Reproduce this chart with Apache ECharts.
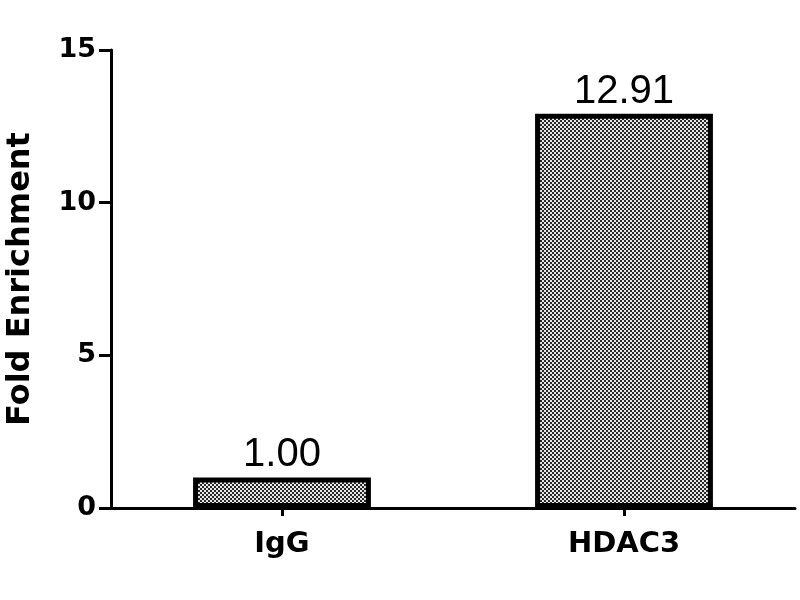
<!DOCTYPE html>
<html>
<head>
<meta charset="utf-8">
<script src="https://cdn.jsdelivr.net/npm/echarts@6/dist/echarts.min.js"></script>
<style>html,body{margin:0;padding:0;background:#fff;}#c{width:800px;height:600px;}</style>
</head>
<body>
<div id="c"></div>
<script>
var categories = ['IgG', 'HDAC3'];
var values = [1.00, 12.91];
var yTicks = [0, 5, 10, 15];
var yTitle = 'Fold Enrichment';

function makePattern() {
  var cv = document.createElement('canvas');
  cv.width = 4; cv.height = 4;
  var ctx = cv.getContext('2d');
  ctx.fillStyle = '#e6e6e6';
  ctx.fillRect(0, 0, 4, 4);
  ctx.fillStyle = '#2a2a2a';
  ctx.fillRect(0, 0, 2, 2);
  ctx.fillRect(2, 2, 2, 2);
  return cv;
}

var chart = echarts.init(document.getElementById('c'));
var boldFont = 'DejaVu Sans, sans-serif';
var valFont = 'Liberation Sans, Arial, sans-serif';
chart.setOption({
  animation: false,
  grid: { left: 111, right: 5, top: 50, bottom: 92, containLabel: false, outerBoundsMode: 'none' },
  xAxis: {
    type: 'category',
    data: categories,
    axisLine: { lineStyle: { color: '#000', width: 3 } },
    axisTick: { show: true, alignWithLabel: true, length: 8, lineStyle: { color: '#000', width: 3 } },
    axisLabel: { color: '#000', fontSize: 29, fontWeight: 'bold', fontFamily: boldFont, margin: 22 }
  },
  yAxis: {
    type: 'value',
    min: yTicks[0], max: yTicks[yTicks.length - 1], interval: 5,
    name: yTitle,
    nameLocation: 'middle',
    nameGap: 74,
    nameTextStyle: { color: '#000', fontSize: 32, fontWeight: 'bold', fontFamily: boldFont },
    splitLine: { show: false },
    axisLine: { show: true, lineStyle: { color: '#000', width: 3 } },
    axisTick: { show: true, length: 12, lineStyle: { color: '#000', width: 3 } },
    axisLabel: { color: '#000', fontSize: 27, fontWeight: 'bold', fontFamily: boldFont, margin: 15 }
  },
  series: [{
    type: 'bar',
    data: values,
    barWidth: '52%',
    itemStyle: {
      color: { image: makePattern(), repeat: 'repeat' },
      borderColor: '#000',
      borderWidth: 5
    },
    label: {
      show: true,
      position: 'top',
      distance: 2,
      color: '#000',
      fontSize: 40,
      fontFamily: valFont,
      formatter: function (p) { return p.value.toFixed(2); }
    }
  }]
});
</script>
</body>
</html>
